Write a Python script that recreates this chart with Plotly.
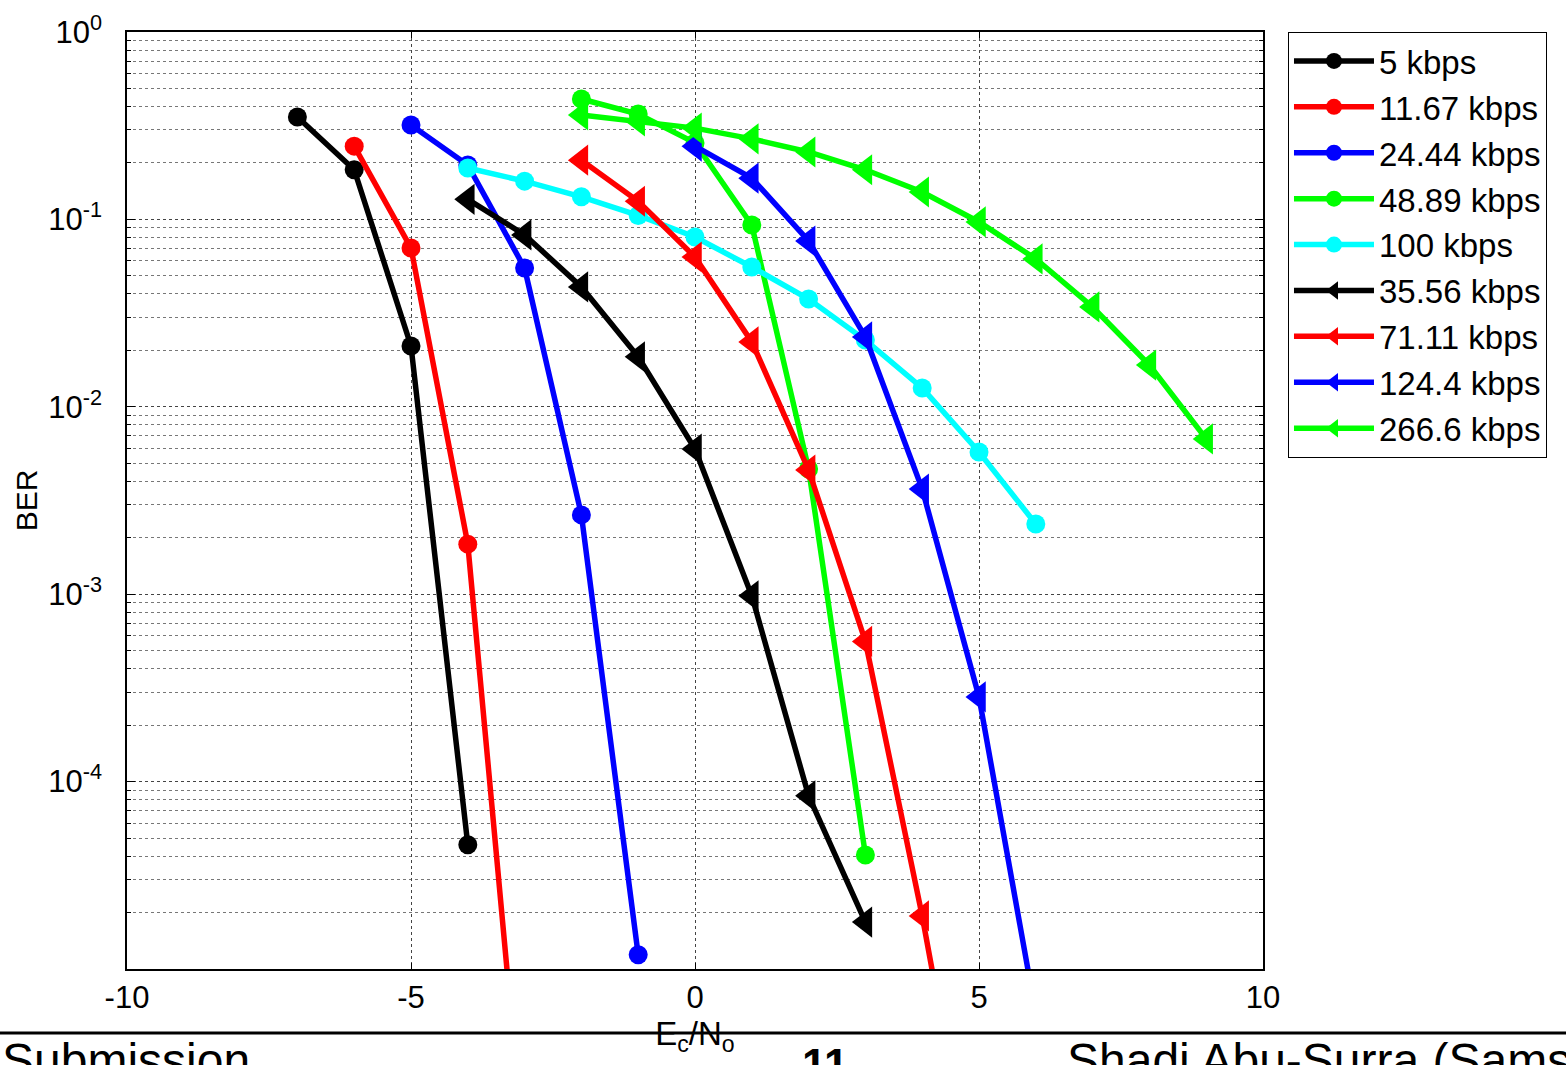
import plotly.graph_objects as go

# E_c/N_o values (dB) and BER values per series
x_5 = [-7, -6, -5, -4]
ber_5 = [0.352, 0.184, 0.0211, 4.6e-5]

x_1167 = [-6, -5, -4, -3]
ber_1167 = [0.246, 0.0704, 1.85e-3, 9.5e-7]

x_2444 = [-5, -4, -3, -2, -1]
ber_2444 = [0.319, 0.195, 0.055, 2.65e-3, 1.19e-5]

x_4889 = [-2, -1, 0, 1, 2, 3]
ber_4889 = [0.439, 0.365, 0.256, 0.0933, 4.66e-3, 4.06e-5]

x_100 = [-4, -3, -2, -1, 0, 1, 2, 3, 4, 5, 6]
ber_100 = [0.188, 0.160, 0.132, 0.105, 0.0805, 0.0557, 0.0376, 0.0227, 0.0126, 5.74e-3, 2.37e-3]

x_3556 = [-4, -3, -2, -1, 0, 1, 2, 3]
ber_3556 = [0.128, 0.0826, 0.0436, 0.0185, 5.95e-3, 9.8e-4, 8.4e-5, 1.78e-5]

x_7111 = [-2, -1, 0, 1, 2, 3, 4, 5]
ber_7111 = [0.207, 0.125, 0.063, 0.0222, 4.6e-3, 5.6e-4, 1.92e-5, 4.3e-7]

x_1244 = [0, 1, 2, 3, 4, 5, 6]
ber_1244 = [0.246, 0.166, 0.0767, 0.0236, 3.64e-3, 2.83e-4, 5.8e-6]

x_2666 = [-2, -1, 0, 1, 2, 3, 4, 5, 6, 7, 8, 9]
ber_2666 = [0.361, 0.335, 0.307, 0.269, 0.229, 0.184, 0.140, 0.0969, 0.0615, 0.0341, 0.0167, 6.74e-3]

series = [
    ("5 kbps", x_5, ber_5, "#000000", "circle"),
    ("11.67 kbps", x_1167, ber_1167, "#FF0000", "circle"),
    ("24.44 kbps", x_2444, ber_2444, "#0000FF", "circle"),
    ("48.89 kbps", x_4889, ber_4889, "#00FF00", "circle"),
    ("100 kbps", x_100, ber_100, "#00FFFF", "circle"),
    ("35.56 kbps", x_3556, ber_3556, "#000000", "triangle-left"),
    ("71.11 kbps", x_7111, ber_7111, "#FF0000", "triangle-left"),
    ("124.4 kbps", x_1244, ber_1244, "#0000FF", "triangle-left"),
    ("266.6 kbps", x_2666, ber_2666, "#00FF00", "triangle-left"),
]

x_ticks = [-10, -5, 0, 5, 10]
y_tickvals = [1e-5, 1e-4, 1e-3, 1e-2, 1e-1, 1]
y_ticktext = ["", "10<sup>-4</sup>", "10<sup>-3</sup>", "10<sup>-2</sup>", "10<sup>-1</sup>", "10<sup>0</sup>"]

footer_texts = ["Submission", "<b>11</b>", "Shadi Abu-Surra (Samsung)"]

FONT = "Liberation Sans, Arial, sans-serif"

fig = go.Figure()
for name, xs, ys, col, sym in series:
    size = 19 if sym == "circle" else 27
    fig.add_trace(go.Scatter(
        x=xs, y=ys, name=name, mode="lines+markers",
        line=dict(color=col, width=5.5),
        marker=dict(symbol=sym, size=size, color=col, line=dict(width=0)),
    ))

fig.update_layout(
    width=1566, height=1065,
    margin=dict(l=127, r=303, t=32, b=96),
    paper_bgcolor="white", plot_bgcolor="white",
    font=dict(family=FONT, size=30, color="black"),
    showlegend=True,
    legend=dict(
        x=1.022, y=1.0, xanchor="left", yanchor="top",
        bgcolor="white", bordercolor="black", borderwidth=1,
        font=dict(size=33), tracegroupgap=0, itemsizing="trace",
        itemwidth=80,
    ),
    xaxis=dict(
        range=[-10, 10], tickvals=x_ticks, ticktext=[str(v) for v in x_ticks],
        showline=True, linecolor="black", linewidth=1.5, mirror="ticks",
        ticks="inside", ticklen=6, tickcolor="black",
        showgrid=True, gridcolor="#444444", griddash="dot", gridwidth=1,
        zeroline=False, tickfont=dict(size=31), ticklabelstandoff=0,
        automargin=False,
        title=dict(text="E<sub>c</sub>/N<sub>o</sub>", font=dict(size=33), standoff=0),
    ),
    yaxis=dict(
        type="log", range=[-5, 0], tickvals=y_tickvals, ticktext=y_ticktext,
        showline=True, linecolor="black", linewidth=1.5, mirror="ticks",
        ticks="inside", ticklen=8, tickcolor="black",
        showgrid=True, gridcolor="#444444", griddash="dot", gridwidth=1,
        zeroline=False, tickfont=dict(size=31), ticklabelstandoff=17,
        automargin=False,
        minor=dict(dtick="D1", ticks="inside", ticklen=4, tickcolor="black", showgrid=True,
                   gridcolor="#777777", griddash="dot", gridwidth=1),
        title=dict(text="BER", font=dict(size=30), standoff=2),
    ),
)

# Slide footer (partially clipped at bottom, as in the source slide)
fig.add_shape(type="line", xref="paper", yref="paper",
              x0=-0.12, x1=1.3, y0=-0.0683, y1=-0.0683,
              line=dict(color="black", width=3), layer="below")
footer_x = [-0.1118, 0.592, 0.826]
footer_y = [-0.0672, -0.0736, -0.0672]
footer_size = [48, 44, 48]
for txt, xp, yp, fs in zip(footer_texts, footer_x, footer_y, footer_size):
    fig.add_annotation(text=txt, xref="paper", yref="paper", x=xp, y=yp,
                       xanchor="left", yanchor="top", showarrow=False,
                       font=dict(size=fs, family=FONT, color="black"))

fig.write_html("out.html", config={"displayModeBar": False},
               post_script="document.body.style.margin='0';document.body.style.overflow='hidden';")
